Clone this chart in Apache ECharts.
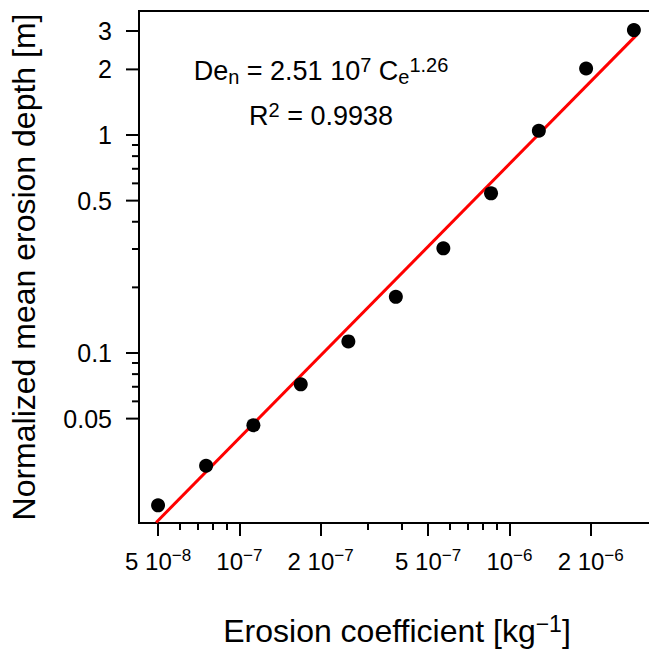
<!DOCTYPE html>
<html><head><meta charset="utf-8">
<script src="https://cdn.jsdelivr.net/npm/echarts@6/dist/echarts.min.js"></script>
<style>html,body{margin:0;padding:0;background:#fff}#c{width:649px;height:652px}</style>
</head><body><div id="c"></div>
<script>
// ---- data ----
const xValues = [5.0e-8, 7.53e-8, 1.127e-7, 1.688e-7, 2.533e-7, 3.797e-7, 5.693e-7, 8.55e-7, 1.285e-6, 1.923e-6, 2.89e-6];
const yValues = [0.0200, 0.0304, 0.0466, 0.0718, 0.113, 0.181, 0.302, 0.540, 1.046, 2.02, 3.03];
const fitX = [4.92e-8, 2.96e-6];
const fitY = [0.0167, 2.88];
const xMajorTicks = [5e-8, 1e-7, 2e-7, 5e-7, 1e-6, 2e-6];
const xMajorLabels = ['5 10^\u22128', '10^\u22127', '2 10^\u22127', '5 10^\u22127', '10^\u22126', '2 10^\u22126'];
const xMinorTicks = [6e-8, 7e-8, 8e-8, 9e-8, 3e-7, 4e-7, 6e-7, 7e-7, 8e-7, 9e-7];
const yMajorTicks = [0.05, 0.1, 0.5, 1, 2, 3];
const yMajorLabels = ['0.05', '0.1', '0.5', '1', '2', '3'];
const yMinorTicks = [0.06, 0.07, 0.08, 0.09, 0.2, 0.3, 0.4, 0.6, 0.7, 0.8, 0.9];
const xRange = [4.25e-8, 3.46e-6];
const yRange = [0.0166, 3.706];
const yTitle = 'Normalized mean erosion depth [m]';

const L = Math.log10;
const FF = 'Liberation Sans, Arial, sans-serif';
function supLabel(s) {
  const i = s.indexOf('^');
  if (i < 0) return '{b|' + s + '}';
  return '{b|' + s.slice(0, i) + '}{sup|' + s.slice(i + 1) + '}';
}
function labelFor(ticks, labels, v) {
  let best = 0, d = Infinity;
  ticks.forEach((t, i) => { const e = Math.abs(L(t) - v); if (e < d) { d = e; best = i; } });
  return labels[best];
}
const tickLine = { color: '#000', width: 2 };
const noLine = { show: false, onZero: false };

const chart = echarts.init(document.getElementById('c'), null, { renderer: 'svg' });
chart.setOption({
  animation: false,
  grid: { left: 139, top: 11, right: -6, bottom: 129, show: true, borderColor: '#000', borderWidth: 2, outerBoundsMode: 'none' },
  xAxis: [
    {
      type: 'value', position: 'bottom', min: L(xRange[0]), max: L(xRange[1]),
      axisLine: noLine, splitLine: { show: false },
      axisTick: { show: true, customValues: xMajorTicks.map(L), length: 13, lineStyle: tickLine },
      axisLabel: {
        show: true, customValues: xMajorTicks.map(L), margin: 24,
        formatter: v => supLabel(labelFor(xMajorTicks, xMajorLabels, v)),
        rich: {
          b: { fontSize: 24, lineHeight: 28, color: '#000', fontFamily: FF },
          sup: { fontSize: 17, lineHeight: 11, verticalAlign: 'top', color: '#000', fontFamily: FF }
        }
      },
      name: '{b|Erosion coefficient [kg}{sup|\u22121}{b|]}', nameLocation: 'middle', nameGap: 89,
      nameTextStyle: {
        rich: {
          b: { fontSize: 32, lineHeight: 38, color: '#000', fontFamily: FF },
          sup: { fontSize: 23, lineHeight: 21, verticalAlign: 'top', color: '#000', fontFamily: FF }
        }
      }
    },
    {
      type: 'value', position: 'bottom', min: L(xRange[0]), max: L(xRange[1]),
      axisLine: noLine, splitLine: { show: false }, axisLabel: { show: false },
      axisTick: { show: true, customValues: xMinorTicks.map(L), length: 7, lineStyle: tickLine }
    }
  ],
  yAxis: [
    {
      type: 'value', position: 'left', min: L(yRange[0]), max: L(yRange[1]),
      axisLine: noLine, splitLine: { show: false },
      axisTick: { show: false },
      axisLabel: {
        show: true, customValues: yMajorTicks.map(L), margin: 27,
        formatter: v => labelFor(yMajorTicks, yMajorLabels, v),
        fontSize: 25, color: '#000', fontFamily: FF
      },
      name: yTitle, nameLocation: 'middle', nameGap: 96, nameRotate: 90,
      nameTextStyle: { fontSize: 32, lineHeight: 38, color: '#000', fontFamily: FF }
    }
  ],
  series: [
    {
      type: 'line', xAxisIndex: 0, yAxisIndex: 0, z: 2,
      data: fitX.map((x, i) => [L(x), L(fitY[i])]),
      showSymbol: false, symbol: 'none', clip: false,
      lineStyle: { color: '#ff0000', width: 3 }
    },
    {
      type: 'scatter', xAxisIndex: 0, yAxisIndex: 0, z: 3,
      data: xValues.map((x, i) => [L(x), L(yValues[i])]),
      symbol: 'circle', symbolSize: 14, clip: false,
      itemStyle: { color: '#000', opacity: 1 }
    }
  ]
});

// y-axis tick marks: positions come from the chart's own y scale (convertToPixel)
function yTickGraphics(values, len) {
  return values.map(v => {
    const p = chart.convertToPixel({ xAxisIndex: 0, yAxisIndex: 0 }, [L(xRange[0]), L(v)]);
    return { type: 'line', z: 100, silent: true,
      shape: { x1: p[0] - len, y1: p[1], x2: p[0], y2: p[1] },
      style: { stroke: '#000', lineWidth: 2 } };
  });
}

chart.setOption({
  graphic: [
    {
      type: 'text', x: 321, y: 71, z: 100,
      style: {
        text: '{b|De}{sub|n}{b| = 2.51 10}{sup|7}{b| C}{sub|e}{sup|1.26}',
        align: 'center', verticalAlign: 'middle',
        rich: {
          b: { fontSize: 27, lineHeight: 32, fill: '#000', fontFamily: FF },
          sub: { fontSize: 20, lineHeight: 17, verticalAlign: 'bottom', fill: '#000', fontFamily: FF },
          sup: { fontSize: 20, lineHeight: 21, verticalAlign: 'top', fill: '#000', fontFamily: FF }
        }
      }
    },
    {
      type: 'text', x: 321, y: 116, z: 100,
      style: {
        text: '{b|R}{sup|2}{b| = 0.9938}',
        align: 'center', verticalAlign: 'middle',
        rich: {
          b: { fontSize: 27, lineHeight: 32, fill: '#000', fontFamily: FF },
          sup: { fontSize: 20, lineHeight: 21, verticalAlign: 'top', fill: '#000', fontFamily: FF }
        }
      }
    }
  ].concat(yTickGraphics(yMajorTicks, 13), yTickGraphics(yMinorTicks, 7))
});
</script></body></html>
